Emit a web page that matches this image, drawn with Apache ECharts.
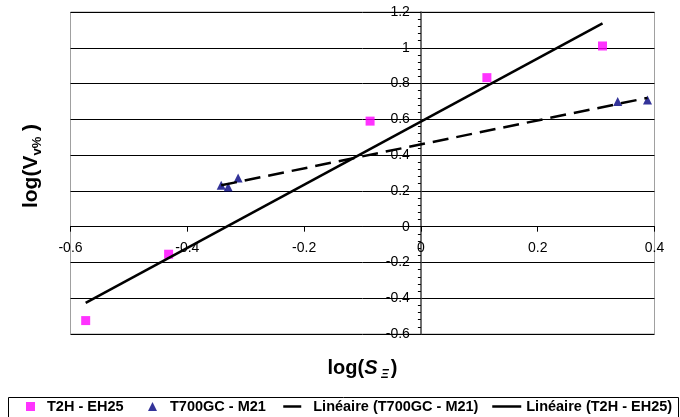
<!DOCTYPE html>
<html>
<head>
<meta charset="utf-8">
<script src="https://cdn.jsdelivr.net/npm/echarts@6/dist/echarts.min.js"></script>
<style>
html,body{margin:0;padding:0;background:#fff;}
#c{width:680px;height:417px;}
</style>
</head>
<body>
<div id="c"></div>
<script>
// T2H - EH25 (squares)
const t2hX = [-0.574, -0.432, -0.087, 0.113, 0.311];
const t2hY = [-0.525, -0.154, 0.590, 0.833, 1.010];
// T700GC - M21 (triangles)
const t700X = [-0.342, -0.330, -0.313, 0.337, 0.388];
const t700Y = [0.232, 0.222, 0.272, 0.700, 0.708];
// Linear trend lines (endpoints)
const trendT700X = [-0.342, 0.388];
const trendT700Y = [0.231, 0.720];
const trendT2hX = [-0.574, 0.311];
const trendT2hY = [-0.426, 1.136];
// Series names / legend
const seriesNames = ['T2H - EH25', 'T700GC - M21', 'Linéaire (T700GC - M21)', 'Linéaire (T2H - EH25)'];
// Axis ranges
const xRange = [-0.6, 0.4];
const yRange = [-0.6, 1.2];
const tickStep = 0.2;

const zip = (a, b) => a.map((v, i) => [v, b[i]]);
const FONT = 'Liberation Sans, Arial, sans-serif';

// grid geometry
const G = {left: 70.5, top: 12, width: 584, height: 322};
// axes cross at (0,0): shift axes from grid edges to the zero lines
const xZeroPx = G.left + (0 - xRange[0]) / (xRange[1] - xRange[0]) * G.width;
const yZeroPx = G.top + (yRange[1] - 0) / (yRange[1] - yRange[0]) * G.height;
const xAxisOffset = -(G.top + G.height - yZeroPx);
const yAxisOffset = -(xZeroPx - G.left);

const legendText = {fontFamily: FONT, fontWeight: 'bold', fontSize: 14.5, color: '#000'};
function mkLegend(name, left, w, extra, textPad) {
  return {
    data: [Object.assign({name: name}, extra)],
    left: left, top: 399, padding: 0,
    itemWidth: w, itemHeight: 9,
    symbolKeepAspect: true,
    lineStyle: {width: 2.5},
    selectedMode: false,
    textStyle: Object.assign({padding: [0, 0, 0, textPad]}, legendText)
  };
}

const chart = echarts.init(document.getElementById('c'), null, {renderer: 'canvas'});
chart.setOption({
  animation: false,
  backgroundColor: '#ffffff',
  textStyle: {fontFamily: FONT, color: '#000'},
  grid: {
    left: G.left, top: G.top, width: G.width, height: G.height,
    containLabel: false,
    outerBoundsMode: 'none',
    show: true, borderColor: '#a0a0a0', borderWidth: 1
  },
  graphic: [{
    type: 'rect', silent: true,
    shape: {x: 8.5, y: 397.5, width: 670, height: 30},
    style: {fill: 'none', stroke: '#000', lineWidth: 1}
  }],
  legend: [
    mkLegend(seriesNames[0], 26, 9, {icon: 'path://M0,0H10V10H0Z'}, 7),
    mkLegend(seriesNames[1], 148, 9, {icon: 'path://M5,0L10,10H0Z'}, 8),
    mkLegend(seriesNames[2], 282, 18, {itemStyle: {opacity: 0}, lineStyle: {type: 'solid'}}, 7),
    mkLegend(seriesNames[3], 491, 29, {itemStyle: {opacity: 0}}, 0)
  ],
  xAxis: {
    type: 'value',
    min: xRange[0], max: xRange[1], interval: tickStep,
    position: 'bottom', offset: xAxisOffset,
    axisLine: {onZero: false, lineStyle: {color: '#000', width: 1}},
    axisTick: {show: true, inside: false, length: 5, lineStyle: {color: '#000'}},
    axisLabel: {fontFamily: FONT, fontSize: 14, color: '#000', margin: 14},
    splitLine: {show: false},
    name: '{a|log(}{i|S}{s| Ξ}{a|)}',
    nameLocation: 'middle',
    nameGap: 130,
    nameTextStyle: {
      rich: {
        a: {fontFamily: FONT, fontWeight: 'bold', fontSize: 20, color: '#000'},
        i: {fontFamily: FONT, fontWeight: 'bold', fontStyle: 'italic', fontSize: 20, color: '#000'},
        s: {fontFamily: FONT, fontWeight: 'bold', fontStyle: 'italic', fontSize: 12, color: '#000', padding: [12, 2, 0, 0]}
      }
    }
  },
  yAxis: {
    type: 'value',
    min: yRange[0], max: yRange[1], interval: tickStep,
    position: 'left', offset: yAxisOffset,
    axisLine: {onZero: false, lineStyle: {color: '#404040', width: 1.5}},
    axisTick: {show: true, inside: false, length: 5, lineStyle: {color: '#000'}},
    minorTick: {show: true, splitNumber: 5, length: 3, lineStyle: {color: '#000'}},
    axisLabel: {fontFamily: FONT, fontSize: 14, color: '#000', margin: 11},
    splitLine: {show: true, lineStyle: {color: '#000', width: 1}},
    name: '{a|log(}{a|V}{s|v%}{a| )}',
    nameLocation: 'middle',
    nameGap: 377,
    nameTextStyle: {
      padding: [0, 0, 0, 14],
      rich: {
        a: {fontFamily: FONT, fontWeight: 'bold', fontSize: 21, color: '#000'},
        s: {fontFamily: FONT, fontWeight: 'bold', fontSize: 13, color: '#000', padding: [12, 0, 0, 0]}
      }
    }
  },
  series: [
    {
      name: seriesNames[0], type: 'scatter',
      symbol: 'rect', symbolSize: 9,
      itemStyle: {color: '#ff00ff'},
      data: zip(t2hX, t2hY), z: 3
    },
    {
      name: seriesNames[1], type: 'scatter',
      symbol: 'triangle', symbolSize: 9,
      itemStyle: {color: '#000080'},
      data: zip(t700X, t700Y), z: 3
    },
    {
      name: seriesNames[2], type: 'line',
      symbol: 'none', showSymbol: false,
      lineStyle: {color: '#000', width: 2.5, type: [16, 8]},
      itemStyle: {color: '#000'},
      data: zip(trendT700X, trendT700Y), z: 4
    },
    {
      name: seriesNames[3], type: 'line',
      symbol: 'none', showSymbol: false,
      lineStyle: {color: '#000', width: 2.5, type: 'solid'},
      itemStyle: {color: '#000'},
      data: zip(trendT2hX, trendT2hY), z: 4
    }
  ]
});
</script>
</body>
</html>
